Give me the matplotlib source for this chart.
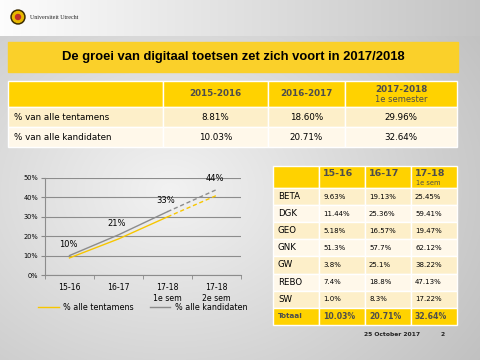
import numpy as np
import matplotlib
matplotlib.use('Agg')
import matplotlib.pyplot as plt
from matplotlib.patches import Rectangle, Circle
from matplotlib.lines import Line2D

plt.rcParams['font.family'] = 'DejaVu Sans'

# --- data ---
title = 'De groei van digitaal toetsen zet zich voort in 2017/2018'

top_cols = ['2015-2016', '2016-2017', '2017-2018']
top_rows = ['% van alle tentamens', '% van alle kandidaten']
top_vals = [['8.81%', '18.60%', '29.96%'],
            ['10.03%', '20.71%', '32.64%']]

periods = ['15-16', '16-17', '17-18\n1e sem', '17-18\n2e sem']
tentamens = [8.81, 18.60, 29.96, 41.0]
kandidaten = [10.03, 20.71, 32.64, 44.0]

fac_cols = ['15-16', '16-17', '17-18']
fac_names = ['BETA', 'DGK', 'GEO', 'GNK', 'GW', 'REBO', 'SW', 'Totaal']
fac_vals = [['9.63%', '19.13%', '25.45%'],
            ['11.44%', '25.36%', '59.41%'],
            ['5.18%', '16.57%', '19.47%'],
            ['51.3%', '57.7%', '62.12%'],
            ['3.8%', '25.1%', '38.22%'],
            ['7.4%', '18.8%', '47.13%'],
            ['1.0%', '8.3%', '17.22%'],
            ['10.03%', '20.71%', '32.64%']]

YEL = '#FFD200'
ROW1 = '#FDEFC9'
ROW2 = '#FFF8EA'
HDR_TXT = '#4d4d4d'

fig = plt.figure(figsize=(4.8, 3.6), dpi=100)

# background in pixel coordinates
bg = fig.add_axes([0, 0, 1, 1])
bg.set_xlim(0, 480)
bg.set_ylim(360, 0)
bg.axis('off')
xx, yy = np.meshgrid(np.arange(480), np.arange(360))
r = np.sqrt(((xx - 170) / 330.0) ** 2 + ((yy - 190) / 260.0) ** 2)
shade = 0.95 - 0.17 * np.clip(r, 0, 1.2)
head = yy < 36
shade[head] = (0.99 - 0.22 * (xx[head] / 480.0))
bg.imshow(np.dstack([shade] * 3), extent=(0, 480, 360, 0), aspect='auto', zorder=0)

# logo
bg.add_patch(Circle((18, 17), 7, color='#3a2a00', zorder=2))
bg.add_patch(Circle((18, 17), 5.5, color='#e8b800', zorder=3))
bg.add_patch(Circle((18, 17), 2.5, color='#c0302a', zorder=4))
bg.text(30, 17.5, 'Universiteit Utrecht', family='Liberation Serif', fontsize=4.3,
        va='center', ha='left', color='#222222', zorder=3)

# title bar
bg.add_patch(Rectangle((8, 42), 450, 30, color='#FAD02A', zorder=2))
bg.text(233, 57, title, family='Liberation Sans', fontweight='bold', fontsize=9.4,
        ha='center', va='center', color='black', zorder=3)

# top table
xe = [8, 163, 268, 345, 457]
ye = [81, 107, 127, 147]
for ri in range(3):
    for ci in range(4):
        c = YEL if ri == 0 else (ROW1 if ri == 1 else ROW2)
        bg.add_patch(Rectangle((xe[ci], ye[ri]), xe[ci + 1] - xe[ci], ye[ri + 1] - ye[ri],
                               facecolor=c, edgecolor='white', lw=1, zorder=2))
for ci, lab in enumerate(top_cols):
    xc = (xe[ci + 1] + xe[ci + 2]) / 2
    if ci == 2:
        bg.text(xc, 89, lab, ha='center', va='center', fontsize=6.3, fontweight='bold',
                color=HDR_TXT, zorder=3)
        bg.text(xc, 99, '1e semester', ha='center', va='center', fontsize=6.0,
                color=HDR_TXT, zorder=3)
    else:
        bg.text(xc, 94, lab, ha='center', va='center', fontsize=6.3, fontweight='bold',
                color=HDR_TXT, zorder=3)
for ri, lab in enumerate(top_rows):
    yc = (ye[ri + 1] + ye[ri + 2]) / 2
    bg.text(14, yc, lab, ha='left', va='center', fontsize=6.3, zorder=3)
    for ci, v in enumerate(top_vals[ri]):
        xc = (xe[ci + 1] + xe[ci + 2]) / 2
        bg.text(xc, yc, v, ha='center', va='center', fontsize=6.3, zorder=3)

# faculty table
fx = [273, 319, 365, 411, 457]
fy = [166, 188] + [188 + 17.1 * (i + 1) for i in range(8)]
nrow = len(fac_names) + 1
for ri in range(nrow):
    for ci in range(4):
        if ri == 0 or ri == nrow - 1:
            c = YEL
        else:
            c = ROW1 if ri % 2 == 1 else ROW2
        bg.add_patch(Rectangle((fx[ci], fy[ri]), fx[ci + 1] - fx[ci], fy[ri + 1] - fy[ri],
                               facecolor=c, edgecolor='white', lw=1, zorder=2))
for ci, lab in enumerate(fac_cols):
    bg.text(fx[ci + 1] + 4, 173, lab, ha='left', va='center', fontsize=6.8,
            fontweight='bold', color=HDR_TXT, zorder=3)
bg.text(fx[3] + 5, 183, '1e sem', ha='left', va='center', fontsize=4.8,
        color=HDR_TXT, zorder=3)
for ri, name in enumerate(fac_names):
    yc = (fy[ri + 1] + fy[ri + 2]) / 2
    last = ri == len(fac_names) - 1
    bg.text(fx[0] + 5, yc, name, ha='left', va='center',
            fontsize=5.2 if last else 6.2, fontweight='bold' if last else 'normal',
            color=HDR_TXT if last else 'black', zorder=3)
    for ci, v in enumerate(fac_vals[ri]):
        bg.text(fx[ci + 1] + 4, yc, v, ha='left', va='center',
                fontsize=5.6 if last else 5.0, fontweight='bold' if last else 'normal',
                color=HDR_TXT if last else 'black', zorder=3)

# footer
bg.text(392, 334, '25 October 2017', ha='center', va='center', fontsize=4.3,
        fontweight='bold', color='#222222')
bg.text(443, 334, '2', ha='center', va='center', fontsize=4.3,
        fontweight='bold', color='#222222')

# line chart
ax = fig.add_axes([45 / 480, 1 - 275 / 360, 196 / 480, 97 / 360])
ax.patch.set_alpha(0)
x = np.arange(len(periods))
ax.set_xlim(-0.5, len(periods) - 0.5)
ax.set_ylim(0, 50)
ax.set_yticks(range(0, 51, 10))
ax.set_yticklabels([f'{v}%' for v in range(0, 51, 10)], fontsize=4.8)
ax.set_xticks(x)
ax.set_xticklabels(periods, fontsize=5.6)
ax.set_xticks(np.arange(-0.5, len(periods)), minor=True)
ax.tick_params(axis='x', which='major', length=0, pad=6)
ax.tick_params(axis='x', which='minor', length=3, color='#888888')
ax.tick_params(axis='y', length=3, color='#888888', pad=2)
ax.grid(axis='y', color='#8c8c8c', lw=0.8)
ax.set_axisbelow(True)
for s in ['top', 'right']:
    ax.spines[s].set_visible(False)
for s in ['left', 'bottom']:
    ax.spines[s].set_color('#8c8c8c')

c_t = '#F7C600'
c_k = '#8c8c8c'
ax.plot(x[:3], tentamens[:3], color=c_t, lw=1.0)
ax.plot(x[2:], tentamens[2:], color=c_t, lw=1.0, ls=(0, (3, 2)))
ax.plot(x[:3], kandidaten[:3], color=c_k, lw=1.0)
ax.plot(x[2:], kandidaten[2:], color=c_k, lw=1.0, ls=(0, (3, 2)))
for xi, v in zip(x, kandidaten):
    ax.annotate(f'{v:.0f}%', (xi, v), xytext=(-1, 8), textcoords='offset points',
                ha='center', va='center', fontsize=6.0)

handles = [Line2D([], [], color=c_t, lw=1.0), Line2D([], [], color=c_k, lw=1.0)]
ax.legend(handles, ['% alle tentamens', '% alle kandidaten'], loc='center',
          bbox_to_anchor=(0.5, -0.33), ncol=2, frameon=False, fontsize=5.8,
          handlelength=2.5, columnspacing=2.0, handletextpad=0.6)

fig.savefig('out.png', dpi=100)
